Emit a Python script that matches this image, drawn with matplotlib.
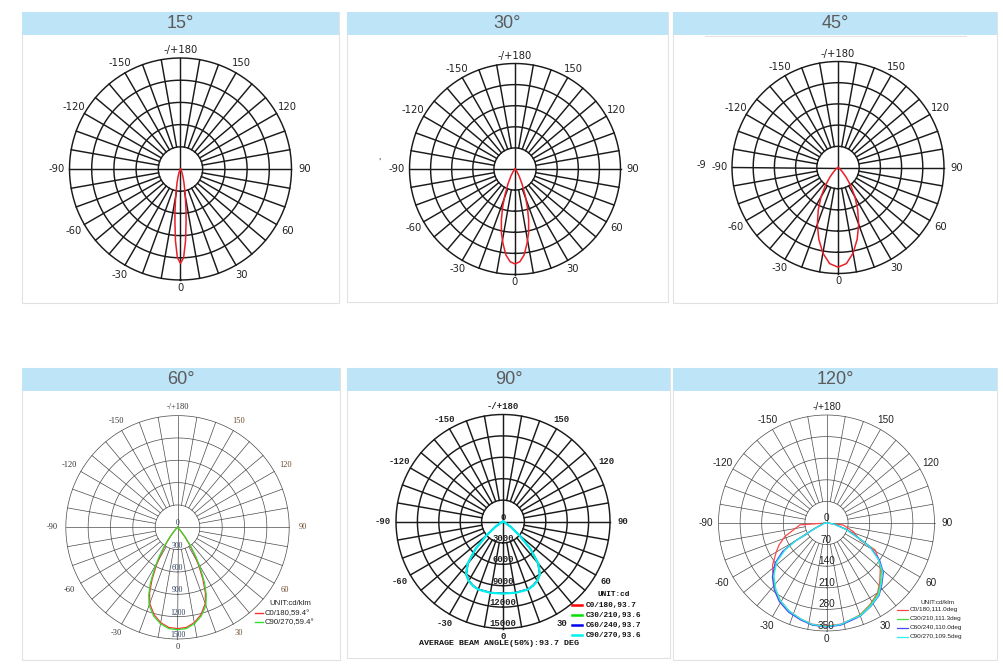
import numpy as np
import matplotlib
matplotlib.use('Agg')
import matplotlib.pyplot as plt
from matplotlib.patches import Rectangle

W, H = 1004, 669

# ---------------- data ----------------
titles = ['15°', '30°', '45°', '60°', '90°', '120°']

# top row: relative intensity, 1 = outer ring, symmetric around 0 deg
gamma_15 = [0, 2, 4, 6, 7.5, 9, 11, 14, 18, 24, 30]
rel_15 = [0.85, 0.80, 0.65, 0.48, 0.38, 0.29, 0.21, 0.13, 0.07, 0.03, 0]
gamma_30 = [0, 3, 6, 9, 12, 15, 18, 21, 25, 30, 36, 45]
rel_30 = [0.90, 0.88, 0.82, 0.72, 0.62, 0.50, 0.38, 0.27, 0.16, 0.08, 0.03, 0]
gamma_45 = [0, 5, 10, 15, 20, 25, 30, 35, 40, 45, 55, 60]
rel_45 = [0.94, 0.91, 0.82, 0.70, 0.57, 0.44, 0.32, 0.21, 0.12, 0.06, 0.02, 0]

# 60 deg, cd/klm
scale_60 = [0, 300, 600, 900, 1200, 1500]
gamma_60 = [0, 5, 10, 15, 20, 23, 26, 29, 32, 35, 38, 42, 46]
c0_60 = [1360, 1350, 1300, 1215, 1090, 960, 780, 590, 420, 270, 150, 50, 0]
c90_60 = [1375, 1365, 1315, 1235, 1115, 990, 830, 640, 470, 310, 180, 60, 0]
labels_60 = ['C0/180,59.4°', 'C90/270,59.4°']

# 90 deg, cd
scale_90 = [0, 3000, 6000, 9000, 12000, 15000]
gamma_90 = [0, 10, 20, 25, 30, 35, 40, 45, 50, 55, 60, 65, 70]
c0_90 = [10050, 10100, 10100, 9900, 9550, 8950, 7600, 5400, 3000, 1300, 400, 100, 0]
c30_90 = [10100, 10150, 10150, 9950, 9650, 9100, 7800, 5500, 3100, 1350, 420, 100, 0]
c60_90 = [10080, 10120, 10120, 9930, 9580, 8980, 7650, 5450, 3050, 1300, 400, 100, 0]
c90_90 = [10100, 10150, 10150, 9950, 9600, 9000, 7700, 5450, 3000, 1300, 400, 100, 0]
labels_90 = ['C0/180,93.7', 'C30/210,93.6', 'C60/240,93.7', 'C90/270,93.6']

# 120 deg, cd/klm, full -90..90 (negative = left half)
scale_120 = [0, 70, 140, 210, 280, 350]
gamma_120 = [-90, -86, -72, -65, -60, -57, -52, -45, -38, -31, -23, -15, -8, 0,
             8, 15, 20, 28, 36, 42, 49, 55, 61, 63, 72, 83, 90]
c0_120 = [0, 86, 142, 170, 188, 199, 222, 245, 270, 292, 310, 322, 331, 334,
          331, 322, 317, 300, 281, 258, 231, 207, 180, 122, 92, 55, 0]
c30_120 = [0, 10, 18, 45, 120, 165, 208, 243, 270, 293, 311, 323, 333, 336,
           333, 323, 318, 302, 284, 262, 236, 205, 165, 140, 70, 25, 0]
c60_120 = [0, 8, 15, 40, 118, 170, 212, 248, 275, 297, 314, 325, 334, 337,
           334, 325, 321, 306, 290, 268, 244, 210, 162, 138, 68, 22, 0]
c90_120 = [0, 6, 12, 35, 115, 160, 205, 241, 268, 292, 310, 322, 332, 336,
           332, 322, 320, 305, 288, 265, 241, 205, 160, 135, 65, 20, 0]
labels_120 = ['C0/180,111.0deg', 'C30/210,111.3deg', 'C60/240,110.0deg', 'C90/270,109.5deg']

# ---------------- layout (pixels) ----------------
panels = [(22, 12, 339, 303), (347, 12, 668, 302), (673, 12, 997, 303),
          (22, 368, 340, 660), (347, 368, 670, 658), (673, 368, 997, 660)]
header_h = 23
centers = [(180.5, 169, 111), (515, 169, 105.5), (838, 167.5, 106),
           (177.5, 527.3, 111.7), (503, 521.5, 107), (826.5, 523, 108)]

fig = plt.figure(figsize=(W / 100, H / 100), dpi=100)
bg = fig.add_axes([0, 0, 1, 1])
bg.set_xlim(0, W)
bg.set_ylim(H, 0)
bg.axis('off')

for (x0, y0, x1, y1), t in zip(panels, titles):
    bg.add_patch(Rectangle((x0, y0), x1 - x0, y1 - y0, facecolor='white',
                           edgecolor='#e2e2e2', lw=0.8))
    bg.add_patch(Rectangle((x0, y0), x1 - x0, header_h, facecolor='#bee4f8',
                           edgecolor='none'))
    bg.text((x0 + x1) / 2, y0 + header_h / 2 + 0.5, t, ha='center', va='center',
            fontsize=13, color='#5b5b5b', family='Liberation Sans')
bg.plot([705, 966], [35.5, 35.5], color='#e2e2e2', lw=0.8)


def polar_at(cx, cy, R, rmax):
    ax = fig.add_axes([(cx - R) / W, 1 - (cy + R) / H, 2 * R / W, 2 * R / H],
                      projection='polar')
    ax.set_theta_zero_location('S')
    ax.set_theta_direction(1)
    ax.set_ylim(0, rmax)
    ax.axis('off')
    return ax


def draw_grid(ax, rmax, color, lw):
    th = np.linspace(0, 2 * np.pi, 361)
    for k in range(1, 6):
        ax.plot(th, np.full_like(th, rmax * k / 5), color=color, lw=lw, clip_on=False)
    for a in range(0, 360, 10):
        r0 = 0 if a % 90 == 0 else rmax / 5
        ax.plot([np.radians(a)] * 2, [r0, rmax], color=color, lw=lw, clip_on=False)


def angle_labels(ax, rmax, size, family, weight='normal', cl='#222', cr='#222'):
    for a in range(-150, 181, 30):
        t = '-/+180' if a == 180 else str(a)
        rr = rmax * (1.075 + 0.045 * abs(np.sin(np.radians(a))))
        col = cr if 0 < a < 180 else cl
        ax.text(np.radians(a), rr, t, ha='center', va='center', fontsize=size,
                family=family, weight=weight, color=col, clip_on=False)


def scale_labels(ax, values, size, family, weight='normal', color='#222'):
    for v in values:
        ax.text(0, v, str(v), ha='center', va='bottom', fontsize=size, family=family,
                weight=weight, color=color, clip_on=False)


def mirror(gam, vals):
    g = np.array(gam, dtype=float)
    v = np.array(vals, dtype=float)
    return np.radians(np.concatenate([-g[::-1], g[1:]])), np.concatenate([v[::-1], v[1:]])


# ---------------- top row ----------------
top_data = [(gamma_15, rel_15), (gamma_30, rel_30), (gamma_45, rel_45)]
for (cx, cy, R), (gam, rel) in zip(centers[:3], top_data):
    ax = polar_at(cx, cy, R, 1.0)
    draw_grid(ax, 1.0, '#1a1a1a', 1.05)
    th, rr = mirror(gam, rel)
    ax.plot(th, rr, color='#e8202a', lw=1.1, clip_on=False)
    angle_labels(ax, 1.0, 7.2, 'DejaVu Sans')

bg.text(379, 162, "'", fontsize=6, color='#444', ha='center', va='center')
bg.text(701, 165, '-9', fontsize=7, color='#222', ha='center', va='center')

# ---------------- 60 deg ----------------
cx, cy, R = centers[3]
ax = polar_at(cx, cy, R, 1500)
draw_grid(ax, 1500, '#4a4a4a', 0.5)
cols_60 = ['#ff3030', '#30e030']
for vals, col in zip([c0_60, c90_60], cols_60):
    th, rr = mirror(gamma_60, vals)
    ax.plot(th, rr, color=col, lw=0.9, clip_on=False)
angle_labels(ax, 1500, 6, 'Liberation Serif', cl='#333', cr='#6b4a2b')
scale_labels(ax, scale_60, 5.6, 'Liberation Serif', color='#2c3e5c')
bg.text(269, 603.7, 'UNIT:cd/klm', fontsize=5.6, family='Liberation Sans',
        color='#222', va='center')
for i, (lab, col) in enumerate(zip(labels_60, cols_60)):
    y = 613.3 + 9 * i
    bg.plot([255, 263], [y, y], color=col, lw=1.0)
    bg.text(265, y, lab, fontsize=5.6, family='Liberation Sans', color='#222', va='center')

# ---------------- 90 deg ----------------
cx, cy, R = centers[4]
ax = polar_at(cx, cy, R, 15000)
draw_grid(ax, 15000, '#1a1a1a', 1.05)
cols_90 = ['#ff0000', '#00e000', '#0000ee', '#00f0f0']
for vals, col in zip([c0_90, c30_90, c60_90, c90_90], cols_90):
    th, rr = mirror(gamma_90, vals)
    ax.plot(th, rr, color=col, lw=1.6 if col == '#00f0f0' else 1.0, clip_on=False)
angle_labels(ax, 15000, 6.4, 'Liberation Mono', weight='bold')
scale_labels(ax, scale_90, 6.4, 'Liberation Mono', weight='bold')
bg.text(598, 595, 'UNIT:cd', fontsize=5.6, family='Liberation Mono', weight='bold',
        color='#111', va='center')
for i, (lab, col) in enumerate(zip(labels_90, cols_90)):
    y = 605 + 10.1 * i
    bg.plot([572.3, 582.3], [y, y], color=col, lw=1.8)
    bg.text(585.7, y, lab, fontsize=5.6, family='Liberation Mono', weight='bold',
            color='#111', va='center')
bg.text(419, 643.3, 'AVERAGE BEAM ANGLE(50%):93.7 DEG', fontsize=6, family='Liberation Mono',
        weight='bold', color='#111', va='center')

# ---------------- 120 deg ----------------
cx, cy, R = centers[5]
ax = polar_at(cx, cy, R, 350)
draw_grid(ax, 350, '#4a4a4a', 0.5)
cols_120 = ['#ff4848', '#40e040', '#4848ff', '#30eeee']
for vals, col in zip([c0_120, c30_120, c60_120, c90_120], cols_120):
    ax.plot(np.radians(gamma_120), vals, color=col, lw=0.9, clip_on=False)
angle_labels(ax, 350, 7.2, 'Liberation Sans')
scale_labels(ax, scale_120, 7.2, 'Liberation Sans')
bg.text(920.5, 602, 'UNIT:cd/klm', fontsize=4.6, family='Liberation Sans',
        color='#222', va='center')
for i, (lab, col) in enumerate(zip(labels_120, cols_120)):
    y = 610 + 8.9 * i
    bg.plot([897, 908], [y, y], color=col, lw=0.9)
    bg.text(909.3, y, lab, fontsize=4.6, family='Liberation Sans', color='#222', va='center')

fig.savefig('out.png', dpi=100)
